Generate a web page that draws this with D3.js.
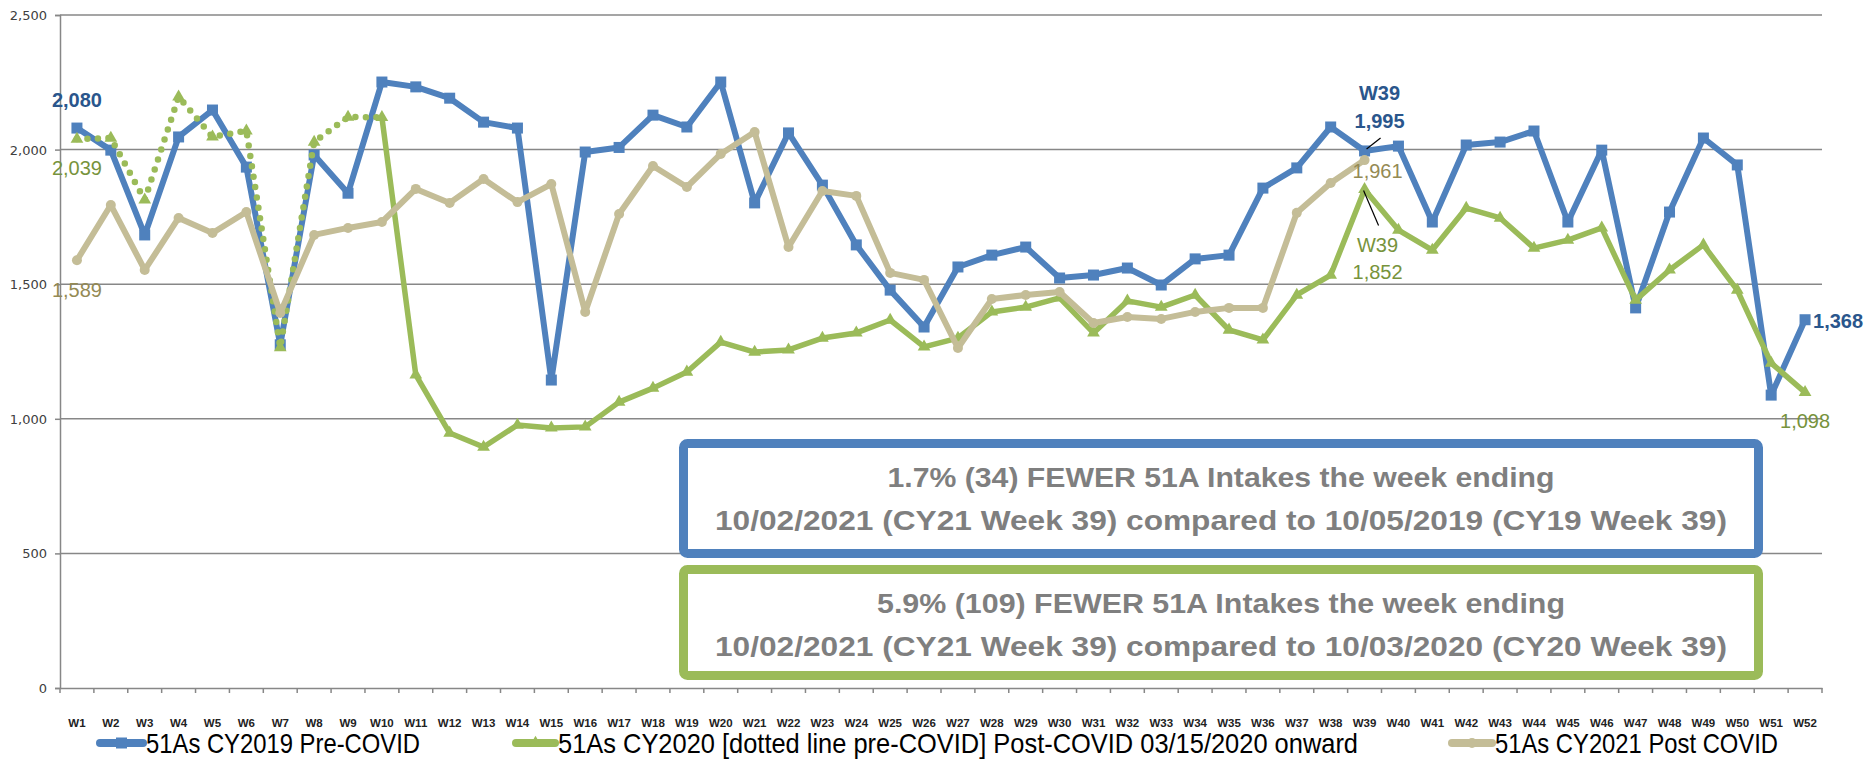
<!DOCTYPE html>
<html>
<head>
<meta charset="utf-8">
<script src="https://cdn.jsdelivr.net/npm/d3@7"></script>
<style>
html, body { margin: 0; padding: 0; background: #fff; overflow: hidden; }
svg { display: block; }
</style>
</head>
<body>
<div id="plot"></div>
<script>
// week categories
const weeks = ["W1","W2","W3","W4","W5","W6","W7","W8","W9","W10","W11","W12","W13","W14","W15","W16","W17","W18","W19","W20",
  "W21","W22","W23","W24","W25","W26","W27","W28","W29","W30","W31","W32","W33","W34","W35","W36","W37","W38","W39","W40",
  "W41","W42","W43","W44","W45","W46","W47","W48","W49","W50","W51","W52"];

// weekly 51A intakes
const cy2019 = [2080,1998,1683,2047,2147,1935,1275,1980,1838,2251,2233,2191,2102,2080,1144,1991,2008,2128,2084,2251,
  1802,2062,1868,1646,1478,1341,1564,1608,1638,1523,1534,1560,1497,1594,1608,1857,1932,2084,1995,2013,
  1731,2017,2028,2069,1731,1998,1412,1768,2043,1943,1088,1368];
const cy2020 = [2039,2043,1813,2196,2047,2070,1265,2028,2121,2120,1163,947,895,977,966,970,1062,1114,1174,1285,
  1248,1256,1300,1319,1367,1267,1300,1397,1415,1449,1319,1438,1415,1460,1330,1293,1460,1534,1852,1701,
  1627,1783,1746,1634,1664,1709,1441,1553,1646,1478,1207,1098];
const cy2021 = [1589,1794,1553,1746,1690,1768,1393,1683,1709,1731,1854,1802,1891,1805,1872,1397,1761,1939,1861,1984,
  2065,1638,1846,1828,1542,1516,1263,1445,1460,1471,1356,1378,1371,1397,1412,1412,1765,1876,1961];
const preCovidWeeks = 10; // CY2020 dotted through W10

const yTicks = [0, 500, 1000, 1500, 2000, 2500];
const seriesNames = ["51As CY2019 Pre-COVID",
  "51As CY2020 [dotted line pre-COVID] Post-COVID 03/15/2020 onward",
  "51As CY2021 Post COVID"];
const note19 = ["1.7% (34) FEWER 51A Intakes the week ending",
  "10/02/2021 (CY21 Week 39) compared to 10/05/2019 (CY19 Week 39)"];
const note20 = ["5.9% (109) FEWER 51A Intakes the week ending",
  "10/02/2021 (CY21 Week 39) compared to 10/03/2020 (CY20 Week 39)"];

// Width and height
const w = 1873;
const h = 759;
const margin = {top: 15, right: 51, bottom: 71, left: 60};
const innerWidth = w - margin.left - margin.right;
const innerHeight = h - margin.top - margin.bottom;

const blue = "#4F81BD", green = "#9BBB59", tan = "#C4BD97";
const gridColor = "#878787";

const svg = d3.select("div#plot")
  .append("svg")
    .attr("width", w)
    .attr("height", h);

svg.append("rect")
  .attr("width", w)
  .attr("height", h)
  .attr("fill", "#fff");

const xScale = d3.scaleBand()
  .domain(weeks)
  .range([margin.left, margin.left + innerWidth])
  .padding(0);
const cx = wk => xScale(wk) + xScale.bandwidth() / 2;

const yScale = d3.scaleLinear()
  .domain([0, 2500])
  .range([margin.top + innerHeight, margin.top]);

// gridlines
svg.append("g")
  .selectAll("line")
  .data(yTicks.filter(d => d > 0))
  .enter()
  .append("line")
    .attr("x1", margin.left)
    .attr("x2", margin.left + innerWidth)
    .attr("y1", d => yScale(d))
    .attr("y2", d => yScale(d))
    .attr("stroke", gridColor)
    .attr("stroke-width", 1.5);

// y axis (line + ticks), labels drawn below
const yAxis = svg.append("g")
  .attr("transform", `translate(${margin.left},0)`)
  .call(d3.axisLeft(yScale).tickValues(yTicks).tickSize(5));
yAxis.select(".domain").attr("stroke", gridColor).attr("stroke-width", 1.5);
yAxis.selectAll(".tick line").attr("stroke", gridColor).attr("stroke-width", 1.5);
yAxis.selectAll(".tick text").remove();

svg.append("g")
  .selectAll("text")
  .data(yTicks)
  .enter()
  .append("text")
    .attr("x", margin.left - 13)
    .attr("y", d => yScale(d) + 5)
    .attr("text-anchor", "end")
    .attr("fill", "#404040")
    .attr("font-family", "'DejaVu Sans', sans-serif")
    .attr("font-size", 13)
    .text(d => d3.format(",")(d));

// x axis
const xAxis = svg.append("g")
  .attr("transform", `translate(0,${margin.top + innerHeight})`)
  .call(d3.axisBottom(xScale).tickSize(0));
xAxis.select(".domain").attr("stroke", gridColor).attr("stroke-width", 1.5);
xAxis.selectAll(".tick text").remove();
xAxis.selectAll("line.bound")
  .data(weeks.map(d => xScale(d)).concat([margin.left + innerWidth]))
  .enter()
  .append("line")
    .attr("class", "bound")
    .attr("x1", d => d)
    .attr("x2", d => d)
    .attr("y1", 0)
    .attr("y2", 5)
    .attr("stroke", gridColor)
    .attr("stroke-width", 1.5);

svg.append("g")
  .selectAll("text")
  .data(weeks)
  .enter()
  .append("text")
    .attr("x", d => cx(d))
    .attr("y", margin.top + innerHeight + 39)
    .attr("text-anchor", "middle")
    .attr("fill", "#222")
    .attr("font-family", "'Liberation Sans', Arial, sans-serif")
    .attr("font-weight", "bold")
    .attr("font-size", 11.5)
    .text(d => d);

// annotation boxes
function noteBox(top, height, color, lines, widths) {
  svg.append("rect")
    .attr("x", 683.5)
    .attr("y", top)
    .attr("width", 1075)
    .attr("height", height)
    .attr("rx", 4)
    .attr("fill", "#fff")
    .attr("stroke", color)
    .attr("stroke-width", 9);
  lines.forEach((t, i) => {
    svg.append("text")
      .attr("x", 683.5 + 1075 / 2)
      .attr("y", top + 43 + i * 43)
      .attr("text-anchor", "middle")
      .attr("textLength", widths[i])
      .attr("lengthAdjust", "spacingAndGlyphs")
      .attr("fill", "#7F7F7F")
      .attr("font-family", "'Liberation Sans', Arial, sans-serif")
      .attr("font-weight", "bold")
      .attr("font-size", 27)
      .text(t);
  });
}
noteBox(443.5, 110, blue, note19, [667, 1012]);
noteBox(569.5, 106, green, note20, [688, 1012]);

// lines
const line = d3.line()
  .x(d => cx(d.wk))
  .y(d => yScale(d.v));

const pts19 = cy2019.map((v, i) => ({wk: weeks[i], v: v}));
const pts20 = cy2020.map((v, i) => ({wk: weeks[i], v: v}));
const pts21 = cy2021.map((v, i) => ({wk: weeks[i], v: v}));

// CY2019
svg.append("path")
  .datum(pts19)
  .attr("d", line)
  .attr("fill", "none")
  .attr("stroke", blue)
  .attr("stroke-width", 6)
  .attr("stroke-linejoin", "round");
svg.append("g")
  .selectAll("rect")
  .data(pts19)
  .enter()
  .append("rect")
    .attr("x", d => cx(d.wk) - 5.5)
    .attr("y", d => yScale(d.v) - 5.5)
    .attr("width", 11)
    .attr("height", 11)
    .attr("fill", blue);

// CY2020
svg.append("path")
  .datum(pts20.slice(0, preCovidWeeks))
  .attr("d", line)
  .attr("fill", "none")
  .attr("stroke", green)
  .attr("stroke-width", 6.5)
  .attr("stroke-linecap", "round")
  .attr("stroke-dasharray", "0 10.5");
svg.append("path")
  .datum(pts20.slice(preCovidWeeks - 1))
  .attr("d", line)
  .attr("fill", "none")
  .attr("stroke", green)
  .attr("stroke-width", 5.5)
  .attr("stroke-linejoin", "round");
svg.append("g")
  .selectAll("path")
  .data(pts20)
  .enter()
  .append("path")
    .attr("d", d3.symbol(d3.symbolTriangle).size(70))
    .attr("transform", d => `translate(${cx(d.wk)},${yScale(d.v)})`)
    .attr("fill", green);

// CY2021
svg.append("path")
  .datum(pts21)
  .attr("d", line)
  .attr("fill", "none")
  .attr("stroke", tan)
  .attr("stroke-width", 6)
  .attr("stroke-linejoin", "round");
svg.append("g")
  .selectAll("circle")
  .data(pts21)
  .enter()
  .append("circle")
    .attr("cx", d => cx(d.wk))
    .attr("cy", d => yScale(d.v))
    .attr("r", 5)
    .attr("fill", tan);

// data labels
const fmt = d3.format(",");
function label(x, y, txt, color, bold, anchor) {
  svg.append("text")
    .attr("x", x)
    .attr("y", y)
    .attr("text-anchor", anchor || "middle")
    .attr("fill", color)
    .attr("font-family", "'Liberation Sans', Arial, sans-serif")
    .attr("font-weight", bold ? "bold" : "normal")
    .attr("font-size", 20)
    .text(txt);
}
const lblBlue = "#2A568C", lblGreen = "#77933C", lblTan = "#948A54";
const first = 0, last = weeks.length - 1, w39 = 38;

label(cx(weeks[first]), yScale(cy2019[first]) - 21, fmt(cy2019[first]), lblBlue, true);
label(cx(weeks[first]), yScale(cy2020[first]) + 36, fmt(cy2020[first]), lblGreen, false);
label(cx(weeks[first]), yScale(cy2021[first]) + 37, fmt(cy2021[first]), lblTan, false);
label(cx(weeks[last]) + 8, yScale(cy2019[last]) + 8, fmt(cy2019[last]), lblBlue, true, "start");
label(cx(weeks[last]), yScale(cy2020[last]) + 36, fmt(cy2020[last]), lblGreen, false);

// week 39 callouts
const x39 = cx(weeks[w39]);
label(x39 + 15, yScale(cy2019[w39]) - 51, weeks[w39], lblBlue, true);
label(x39 + 15, yScale(cy2019[w39]) - 23, fmt(cy2019[w39]), lblBlue, true);
svg.append("line")
  .attr("x1", x39 + 16).attr("y1", yScale(cy2019[w39]) - 13)
  .attr("x2", x39 + 2).attr("y2", yScale(cy2019[w39]) - 2)
  .attr("stroke", "#000").attr("stroke-width", 1.2);
label(x39 + 13, yScale(cy2021[w39]) + 18, fmt(cy2021[w39]), lblTan, false);
label(x39 + 13, yScale(cy2020[w39]) + 63, weeks[w39], lblGreen, false);
label(x39 + 13, yScale(cy2020[w39]) + 90, fmt(cy2020[w39]), lblGreen, false);
svg.append("line")
  .attr("x1", x39 - 1).attr("y1", yScale(cy2020[w39]) + 1)
  .attr("x2", x39 + 14).attr("y2", yScale(cy2020[w39]) + 36)
  .attr("stroke", "#000").attr("stroke-width", 1.2);

// legend
const legendY = 743;
const legendItems = [
  {name: seriesNames[0], color: blue, x0: 100, x1: 143, tx: 146, tw: 274, mark: "square"},
  {name: seriesNames[1], color: green, x0: 516, x1: 555, tx: 558, tw: 800, mark: "triangle"},
  {name: seriesNames[2], color: tan, x0: 1452, x1: 1492, tx: 1495, tw: 283, mark: "circle"}
];
const legend = svg.append("g").attr("id", "legend");
legendItems.forEach(d => {
  legend.append("line")
    .attr("x1", d.x0).attr("x2", d.x1)
    .attr("y1", legendY).attr("y2", legendY)
    .attr("stroke", d.color)
    .attr("stroke-width", 8)
    .attr("stroke-linecap", "round");
  const mx = (d.x0 + d.x1) / 2;
  if (d.mark === "square") {
    legend.append("rect").attr("x", mx - 5.5).attr("y", legendY - 5.5)
      .attr("width", 11).attr("height", 11).attr("fill", d.color);
  } else if (d.mark === "triangle") {
    legend.append("path").attr("d", d3.symbol(d3.symbolTriangle).size(70))
      .attr("transform", `translate(${mx},${legendY})`).attr("fill", d.color);
  } else {
    legend.append("circle").attr("cx", mx).attr("cy", legendY).attr("r", 5).attr("fill", d.color);
  }
  legend.append("text")
    .attr("x", d.tx)
    .attr("y", legendY + 10)
    .attr("textLength", d.tw)
    .attr("lengthAdjust", "spacingAndGlyphs")
    .attr("fill", "#000")
    .attr("font-family", "'Liberation Sans Narrow', 'Liberation Sans', sans-serif")
    .attr("font-size", 28)
    .text(d.name);
});
</script>
</body>
</html>
